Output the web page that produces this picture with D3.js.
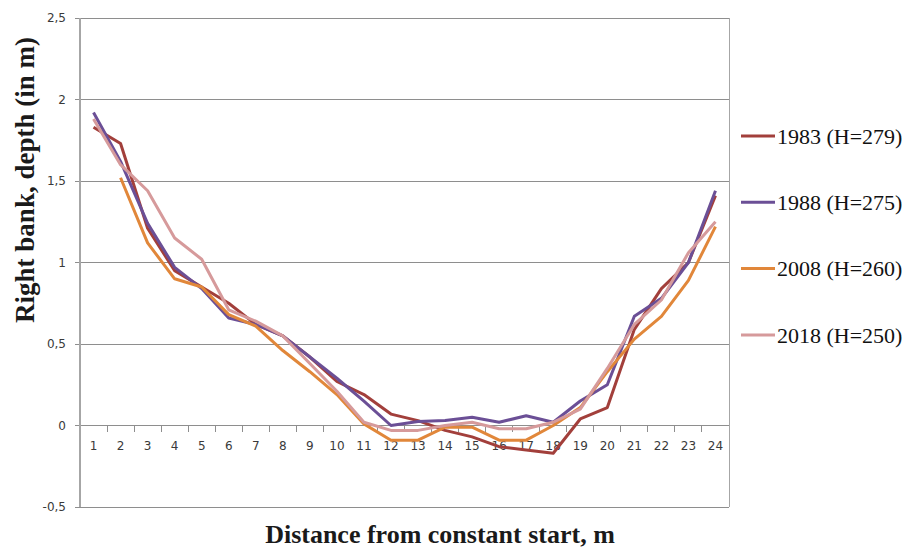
<!DOCTYPE html>
<html><head><meta charset="utf-8">
<script src="https://cdn.jsdelivr.net/npm/d3@7"></script>
<style>body{margin:0;background:#fff}svg{display:block}</style>
</head><body>
<svg id="c" width="912" height="550"></svg>
<script>
const categories = d3.range(1, 25).map(String);
const yTicks = [-0.5, 0, 0.5, 1, 1.5, 2, 2.5];
const seriesNames = ["1983 (H=279)", "1988 (H=275)", "2008 (H=260)", "2018 (H=250)"];
const s1983 = [1.83,1.73,1.21,0.95,0.85,0.75,0.62,0.55,0.42,0.27,0.19,0.07,0.03,-0.03,-0.07,-0.13,-0.15,-0.17,0.04,0.11,0.59,0.84,1.00,1.41];
const s1988 = [1.92,1.62,1.24,0.97,0.84,0.66,0.62,0.55,0.42,0.29,0.15,0.00,0.025,0.03,0.05,0.02,0.06,0.02,0.15,0.25,0.67,0.78,1.00,1.44];
const s2008 = [null,1.52,1.12,0.90,0.85,0.68,0.61,0.46,0.33,0.19,0.01,-0.09,-0.09,-0.01,-0.01,-0.09,-0.09,0.00,0.11,0.33,0.53,0.67,0.89,1.22];
const s2018 = [1.88,1.60,1.44,1.15,1.02,0.71,0.64,0.55,0.38,0.21,0.02,-0.03,-0.03,0.00,0.02,-0.02,-0.02,0.02,0.10,0.35,0.62,0.77,1.06,1.25];
const colors = ["#A23F3B", "#6B4F96", "#E1873A", "#D69A9B"];
const allSeries = [s1983, s1988, s2008, s2018];

const svg = d3.select("#c");
const L = 80, R = 729, T = 18, B = 507;
const x = d3.scaleBand().domain(categories).range([L, R]);
const y = d3.scaleLinear().domain([-0.5, 2.5]).range([B, T]);
const fmt = d => String(d).replace(".", ",");
const gridCol = "#8e8e8e";

// gridlines
svg.append("g").selectAll("line").data(yTicks).join("line")
  .attr("x1", L - 5).attr("x2", R).attr("y1", d => y(d)).attr("y2", d => y(d))
  .attr("stroke", gridCol).attr("stroke-width", 1).attr("shape-rendering", "crispEdges");
// plot border
svg.append("line").attr("x1", R).attr("x2", R).attr("y1", T).attr("y2", B)
  .attr("stroke", "#a6a6a6").attr("shape-rendering", "crispEdges");
svg.append("line").attr("x1", L).attr("x2", L).attr("y1", T).attr("y2", B)
  .attr("stroke", "#a6a6a6").attr("stroke-width", 1.5).attr("shape-rendering", "crispEdges");

// y axis labels
svg.append("g").selectAll("text").data(yTicks).join("text")
  .attr("x", 66).attr("y", d => y(d)).attr("dy", "0.35em").attr("text-anchor", "end")
  .attr("font-family", "DejaVu Sans, Verdana, sans-serif").attr("font-size", 12).attr("fill", "#3a3a3a")
  .text(fmt);

// x axis at 0
const xAxis = d3.axisBottom(x).tickSize(0).tickPadding(16);
const gx = svg.append("g").attr("transform", `translate(0,${y(0)})`).call(xAxis);
gx.select(".domain").remove();
gx.selectAll("text").attr("font-family", "DejaVu Sans, Verdana, sans-serif").attr("font-size", 12).attr("fill", "#3a3a3a");
// band boundary ticks
svg.append("g").selectAll("line").data(categories.slice(1)).join("line")
  .attr("x1", d => x(d)).attr("x2", d => x(d)).attr("y1", y(0)).attr("y2", y(0) + 6)
  .attr("stroke", gridCol).attr("shape-rendering", "crispEdges");

// lines
const line = d3.line().defined(d => d != null)
  .x((d, i) => x(categories[i]) + x.bandwidth() / 2).y(d => y(d));
allSeries.forEach((s, k) => {
  svg.append("path").datum(s).attr("d", line).attr("fill", "none")
    .attr("stroke", colors[k]).attr("stroke-width", 3).attr("stroke-linejoin", "round");
});

// legend
const lg = svg.append("g");
seriesNames.forEach((n, k) => {
  const yy = 136 + k * 66.3;
  lg.append("line").attr("x1", 741).attr("x2", 775).attr("y1", yy).attr("y2", yy)
    .attr("stroke", colors[k]).attr("stroke-width", 3);
  lg.append("text").attr("x", 777).attr("y", yy).attr("dy", "0.35em")
    .attr("font-family", "Liberation Serif, Times New Roman, serif").attr("font-size", 22).attr("fill", "#111")
    .text(n);
});

// titles
svg.append("text").attr("transform", "translate(34,180) rotate(-90)").attr("text-anchor", "middle")
  .attr("font-family", "Liberation Serif, Times New Roman, serif").attr("font-weight", "bold").attr("font-size", 27)
  .attr("fill", "#1a1a1a").text("Right bank, depth (in m)");
svg.append("text").attr("x", 440).attr("y", 543).attr("text-anchor", "middle")
  .attr("font-family", "Liberation Serif, Times New Roman, serif").attr("font-weight", "bold").attr("font-size", 26)
  .attr("fill", "#1a1a1a").text("Distance from constant start, m");
</script>
</body></html>
